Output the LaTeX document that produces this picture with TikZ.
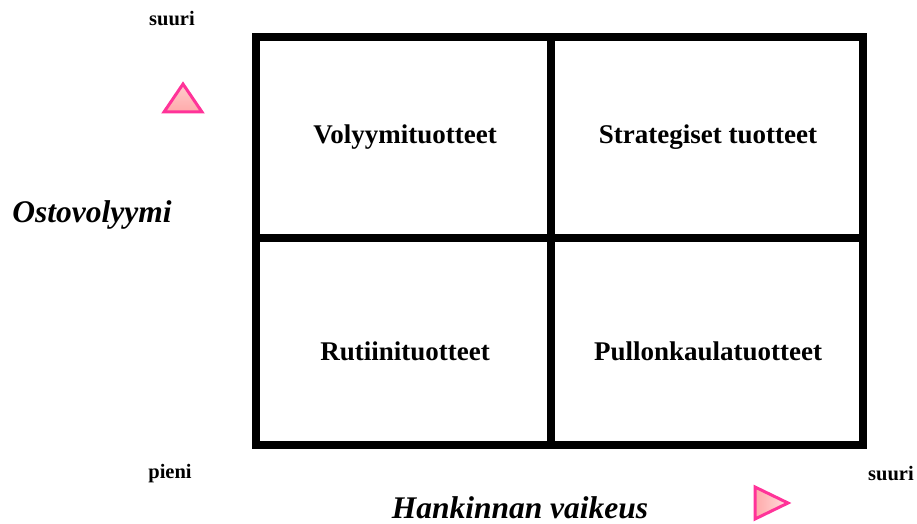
\documentclass[tikz,border=0pt]{standalone}
\usepackage{fontspec}
\setmainfont{Liberation Serif}
\usetikzlibrary{positioning,calc}
\definecolor{tripink}{RGB}{255,51,153}
\definecolor{trifill}{RGB}{255,170,170}
\tikzset{
  quad/.style  ={font=\fontsize{27}{30}\selectfont\bfseries},
  axis/.style  ={font=\fontsize{31.5}{34}\selectfont\bfseries\itshape, inner sep=0pt},
  tick/.style  ={font=\fontsize{20.5}{23}\selectfont\bfseries},
  gridline/.style={draw=black, line width=8pt},
  tri/.style   ={draw=tripink, line width=3pt, line join=miter},
}

\begin{document}
\begin{tikzpicture}[x=1pt, y=-1pt]
\useasboundingbox (0,0) rectangle (917,524);
% the four boxes
\draw[gridline] (256,37) rectangle (863,445);
\draw[gridline] (551,37) -- (551,445);
\draw[gridline] (256,238) -- (863,238);
\node[quad] (vol) at (405,137) {Volyymituotteet};
\node[quad] (str) at (708,137) {Strategiset tuotteet};
\node[quad] (rut) at (405,351) {Rutiinituotteet};
\node[quad] (pul) at (708,351) {Pullonkaulatuotteet};
% axes
\node[axis] (osto) at (92,215) {Ostovolyymi};
\node[axis] (hank) at (520,508) {Hankinnan vaikeus};
\node[tick] (ylo) at (172,19) {suuri};
\node[tick] (ala) at (170,474) {pieni};
\node[tick] (oik) at (891,474) {suuri};
% arrows as triangles
\shade[top color=trifill!60, bottom color=trifill, tri] (183,84) -- (164,112) -- (202,112) -- cycle;
\shade[left color=trifill, right color=trifill!40, tri] (755,487) -- (788,503) -- (755,519) -- cycle;
\end{tikzpicture}
\end{document}
